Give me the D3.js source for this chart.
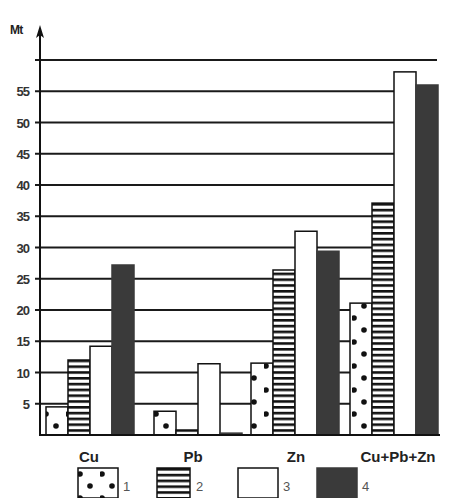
<!DOCTYPE html>
<html>
<head>
<meta charset="utf-8">
<script src="https://cdn.jsdelivr.net/npm/d3@7"></script>
<style>
  body { margin: 0; background: #fff; }
  svg { font-family: "Liberation Sans", Arial, sans-serif; }
</style>
</head>
<body>
<div id="chart"></div>
<script>
// metals and the four series (Mt)
var metals = ["Cu", "Pb", "Zn", "Cu+Pb+Zn"];
var series = ["1", "2", "3", "4"];
var s1 = [4.5, 3.8, 11.5, 21.1];
var s2 = [12, 0.8, 26.4, 37.1];
var s3 = [14.2, 11.4, 32.6, 58.1];
var s4 = [27.2, 0.3, 29.4, 56];
var yTicks = [5, 10, 15, 20, 25, 30, 35, 40, 45, 50, 55, 60];

var values = [s1, s2, s3, s4];
var data = [];
metals.forEach(function(m, i) {
    series.forEach(function(s, j) {
        data.push({metal: m, series: s, value: values[j][i]});
    });
});

var width = 452, height = 498;
var svg = d3.select('#chart').append('svg')
    .attr('width', width)
    .attr('height', height);

var defs = svg.append('defs');
var dots = defs.append('pattern')
    .attr('id', 'dots')
    .attr('patternUnits', 'userSpaceOnUse')
    .attr('width', 22).attr('height', 24);
dots.append('rect').attr('width', 22).attr('height', 24).attr('fill', '#fff');
[[2, 6], [12, 18]].forEach(function(p) {
    dots.append('circle').attr('cx', p[0]).attr('cy', p[1]).attr('r', 2.8).attr('fill', '#111');
});
var stripes = defs.append('pattern')
    .attr('id', 'stripes')
    .attr('patternUnits', 'userSpaceOnUse')
    .attr('width', 10).attr('height', 5.8);
stripes.append('rect').attr('width', 10).attr('height', 5.8).attr('fill', '#fff');
stripes.append('rect').attr('y', 0).attr('width', 10).attr('height', 2.6).attr('fill', '#111');

var fills = {"1": "url(#dots)", "2": "url(#stripes)", "3": "#fff", "4": "#3a3a3a"};

// group start positions are uneven in the original
var x0 = d3.scaleOrdinal()
    .domain(metals)
    .range([46, 154, 251, 350]);
var x1 = d3.scaleBand()
    .domain(series)
    .range([0, 88]);
var y = d3.scaleLinear()
    .domain([0, 60])
    .range([435, 60]);

// gridlines
svg.append('g')
    .selectAll('line')
    .data(yTicks)
    .enter().append('line')
    .attr('x1', 35)
    .attr('x2', 437)
    .attr('y1', d => y(d))
    .attr('y2', d => y(d))
    .attr('stroke', '#1a1a1a')
    .attr('stroke-width', 2);

// tick labels
svg.append('g')
    .selectAll('text')
    .data(yTicks.filter(d => d < 60))
    .enter().append('text')
    .attr('x', 29)
    .attr('y', d => y(d) + 5)
    .attr('text-anchor', 'end')
    .attr('font-size', 13)
    .attr('font-weight', 'bold')
    .attr('fill', '#333')
    .attr('letter-spacing', -1)
    .text(d => d);

// bars
svg.append('g')
    .selectAll('rect')
    .data(data)
    .enter().append('rect')
    .attr('x', d => x0(d.metal) + x1(d.series))
    .attr('y', d => y(d.value))
    .attr('width', x1.bandwidth())
    .attr('height', d => y(0) - y(d.value))
    .attr('fill', d => fills[d.series])
    .attr('stroke', d => d.series === "4" ? '#3a3a3a' : '#111')
    .attr('stroke-width', 1.5);

// axes
svg.append('line')
    .attr('x1', 40).attr('x2', 440)
    .attr('y1', y(0)).attr('y2', y(0))
    .attr('stroke', '#111').attr('stroke-width', 2);
svg.append('line')
    .attr('x1', 40).attr('x2', 40)
    .attr('y1', y(0) + 1).attr('y2', 30)
    .attr('stroke', '#111').attr('stroke-width', 2);
svg.append('path')
    .attr('d', 'M40,25 L36,38 L40,35 L44,38 Z')
    .attr('fill', '#111');
svg.append('text')
    .attr('x', 10).attr('y', 34)
    .attr('font-size', 12)
    .attr('font-weight', 'bold')
    .attr('letter-spacing', -0.8)
    .attr('fill', '#222')
    .text('Mt');

// category labels
svg.append('g')
    .selectAll('text')
    .data(metals)
    .enter().append('text')
    .attr('x', (d, i) => [89, 193, 296, 398][i])
    .attr('y', 462)
    .attr('text-anchor', 'middle')
    .attr('font-size', 15)
    .attr('font-weight', 'bold')
    .attr('fill', '#222')
    .text(d => d);

// legend
var legendX = [78, 157, 238, 317];
var legend = svg.append('g')
    .selectAll('g')
    .data(series)
    .enter().append('g')
    .attr('transform', (d, i) => 'translate(' + legendX[i] + ',468)');
legend.append('rect')
    .attr('width', d => d === "2" ? 33 : 40)
    .attr('height', 30)
    .attr('fill', d => fills[d])
    .attr('stroke', d => d === "4" ? '#3a3a3a' : '#111')
    .attr('stroke-width', 1.5);
legend.append('text')
    .attr('x', d => d === "2" ? 39 : 45)
    .attr('y', 23)
    .attr('font-size', 13)
    .attr('fill', '#555')
    .text(d => d);
</script>
</body>
</html>
